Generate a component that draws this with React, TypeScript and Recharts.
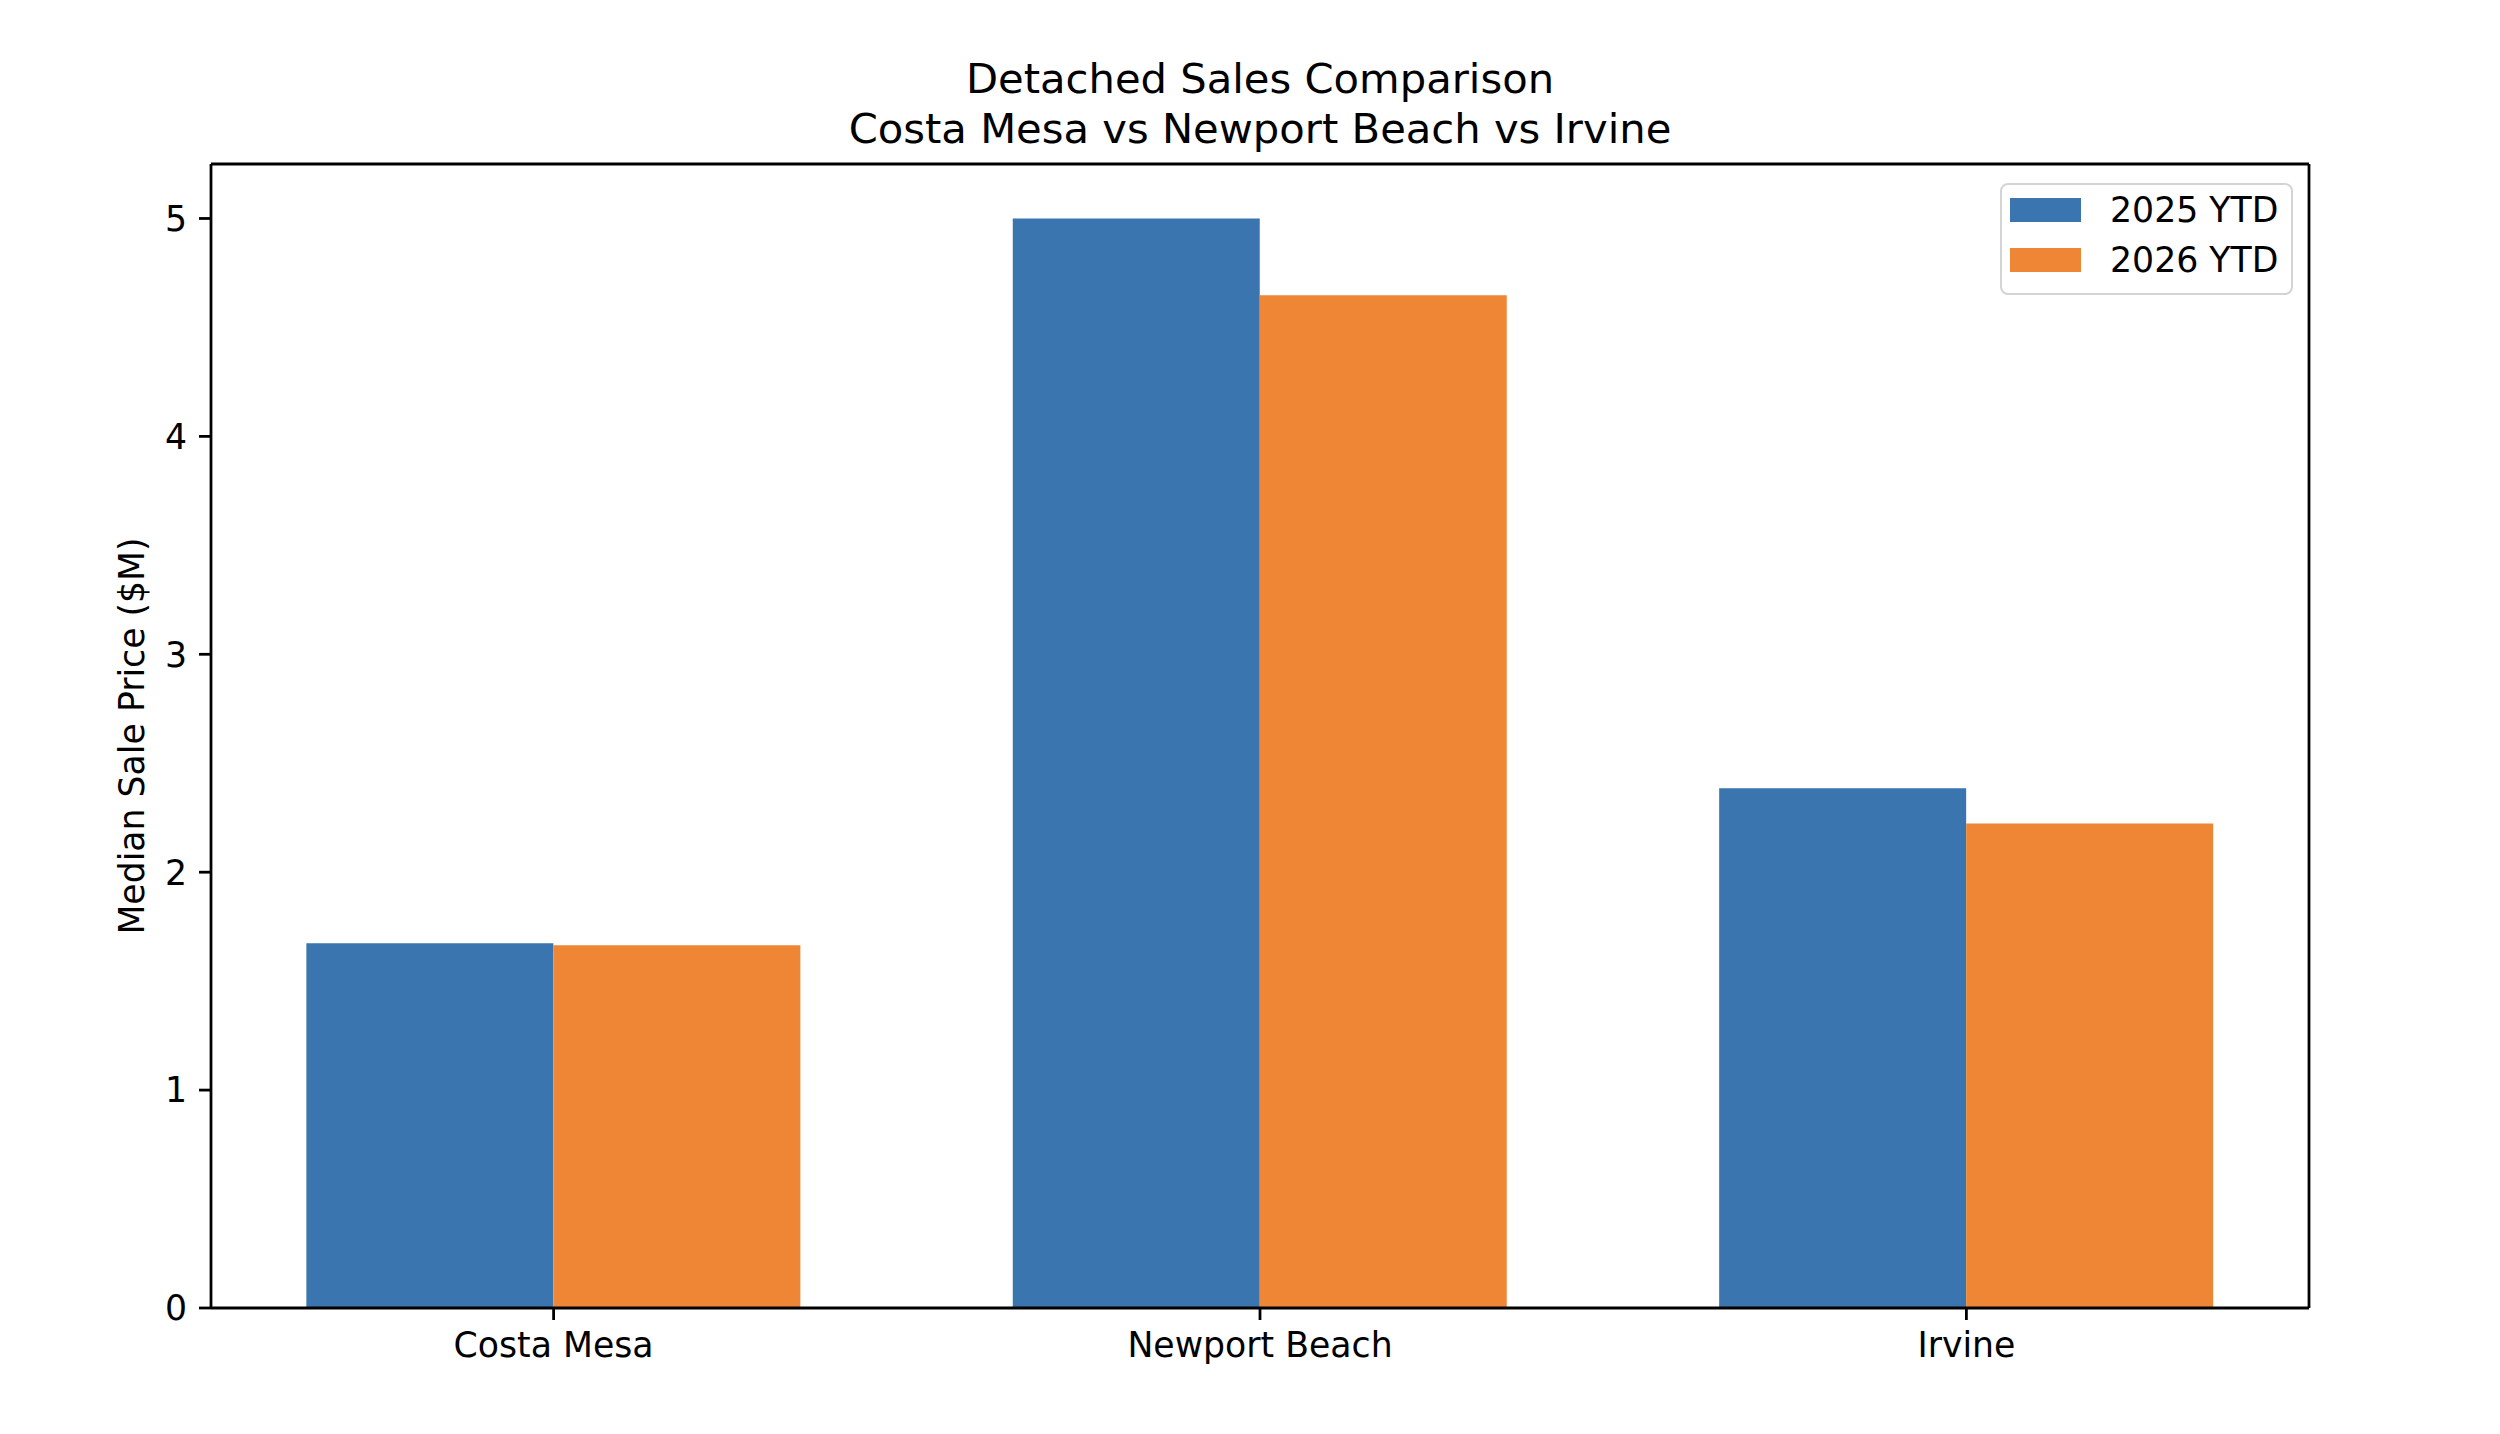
import { Bar, BarChart, Label, Legend, XAxis, YAxis } from 'recharts';

const categories = ['Costa Mesa', 'Newport Beach', 'Irvine'];
const ytd2025 = [1.674, 5.0, 2.385];
const ytd2026 = [1.665, 4.648, 2.223];
const yTicks = [0, 1, 2, 3, 4, 5];
const seriesNames = ['2025 YTD', '2026 YTD'];

const BLUE = '#3a75af';
const ORANGE = '#ef8636';
const FONT = "'DejaVu Sans', sans-serif";
const LINE_W = 2.78;

const chartData = categories.map((name, i) => ({
    name,
    ytd2025: ytd2025[i],
    ytd2026: ytd2026[i],
}));

const tickStyle = { fontFamily: FONT, fontSize: 34.7, fill: '#000' };

function LegendBox({ payload }: { payload?: Array<{ value: string; color: string }> }) {
    return (
        <div
            style={{
                boxSizing: 'border-box',
                width: 293,
                height: 112,
                border: '2.5px solid #d4d4d4',
                borderRadius: 8,
                background: 'rgba(255,255,255,0.8)',
            }}
        >
            {(payload ?? []).map((entry) => (
                <div
                    key={entry.value}
                    style={{
                        display: 'flex',
                        alignItems: 'center',
                        height: 50,
                    }}
                >
                    <div
                        style={{
                            width: 71,
                            height: 24,
                            marginLeft: 8,
                            background: entry.color,
                        }}
                    />
                    <span
                        style={{
                            marginLeft: 29,
                            fontFamily: FONT,
                            fontSize: 34.7,
                            lineHeight: '34.7px',
                            color: '#000',
                            whiteSpace: 'nowrap',
                        }}
                    >
                        {entry.value}
                    </span>
                </div>
            ))}
        </div>
    );
}

export default function App() {
    return (
        <div style={{ position: 'relative', width: 2500, height: 1434, background: '#fff' }}>
            <style>{'body{margin:0;background:#fff}'}</style>
            <div
                style={{
                    position: 'absolute',
                    left: 0,
                    width: 2520,
                    top: 53.5,
                    textAlign: 'center',
                    fontFamily: FONT,
                    fontSize: 41.7,
                    lineHeight: '50px',
                    color: '#000',
                }}
            >
                Detached Sales Comparison
                <br />
                Costa Mesa vs Newport Beach vs Irvine
            </div>
            <BarChart
                width={2500}
                height={1434}
                data={chartData}
                margin={{ top: 163, right: 190, bottom: 66, left: 111 }}
                barCategoryGap="15%"
                barGap={0}
            >
                <XAxis
                    dataKey="name"
                    height={60}
                    padding={{ left: -10.6, right: -10.6 }}
                    tick={tickStyle}
                    tickSize={12}
                    tickMargin={12}
                    tickLine={{ stroke: '#000', strokeWidth: LINE_W }}
                    axisLine={{ stroke: '#000', strokeWidth: LINE_W }}
                    interval={0}
                />
                {/* top spine */}
                <XAxis
                    xAxisId="top"
                    dataKey="name"
                    orientation="top"
                    height={1}
                    tick={false}
                    tickLine={false}
                    axisLine={{ stroke: '#000', strokeWidth: LINE_W }}
                />
                <YAxis
                    type="number"
                    domain={[0, 5.25]}
                    ticks={yTicks}
                    width={100}
                    tick={tickStyle}
                    tickSize={12}
                    tickMargin={12}
                    tickLine={{ stroke: '#000', strokeWidth: LINE_W }}
                    axisLine={{ stroke: '#000', strokeWidth: LINE_W }}
                >
                    <Label
                        content={({ viewBox }: any) => {
                            const cx = 132;
                            const cy = viewBox.y + viewBox.height / 2;
                            return (
                                <text
                                    x={cx}
                                    y={cy}
                                    transform={`rotate(-90, ${cx}, ${cy})`}
                                    textAnchor="middle"
                                    dominantBaseline="central"
                                    fontFamily={FONT}
                                    fontSize={34.7}
                                    fill="#000"
                                >
                                    Median Sale Price ($M)
                                </text>
                            );
                        }}
                    />
                </YAxis>
                {/* right spine */}
                <YAxis
                    yAxisId="right"
                    orientation="right"
                    type="number"
                    domain={[0, 5.25]}
                    width={1}
                    tick={false}
                    tickLine={false}
                    axisLine={{ stroke: '#000', strokeWidth: LINE_W }}
                />
                <Legend
                    layout="horizontal"
                    verticalAlign="middle"
                    align="center"
                    wrapperStyle={{ left: 2000, top: 183, width: 293, height: 112 }}
                    content={(props: any) => <LegendBox payload={props.payload} />}
                />
                <Bar
                    dataKey="ytd2025"
                    name={seriesNames[0]}
                    fill={BLUE}
                    isAnimationActive={false}
                />
                <Bar
                    dataKey="ytd2026"
                    name={seriesNames[1]}
                    fill={ORANGE}
                    isAnimationActive={false}
                />
            </BarChart>
        </div>
    );
}
